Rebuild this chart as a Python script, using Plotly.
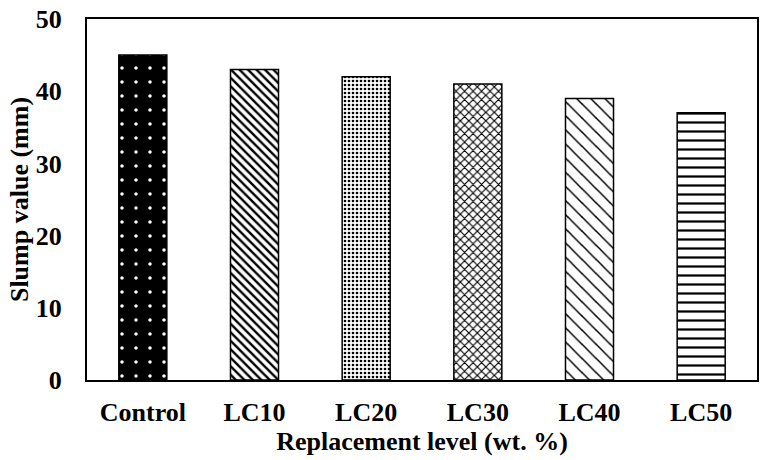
import plotly.graph_objects as go

categories = ["Control", "LC10", "LC20", "LC30", "LC40", "LC50"]
slump = [45, 43, 42, 41, 39, 37]
y_ticks = [0, 10, 20, 30, 40, 50]

shapes = [".", "\\", ".", "x", "\\", "-"]
bgcolors = ["black", "white", "white", "white", "white", "white"]
fgcolors = ["white", "black", "black", "black", "black", "black"]
sizes = [14, 6, 4, 6, 10, 9]
solidity = [0.05, 0.4, 0.35, 0.35, 0.15, 0.25]

fig = go.Figure()
for i, cat in enumerate(categories):
    fig.add_trace(go.Bar(
        x=[cat], y=[slump[i]], width=0.43,
        marker=dict(
            color=bgcolors[i],
            line=dict(color="black", width=1.5),
            pattern=dict(shape=shapes[i], bgcolor=bgcolors[i], fgcolor=fgcolors[i],
                         size=sizes[i], solidity=solidity[i], fillmode="replace"),
        ),
    ))

font = dict(family="Liberation Serif, Times New Roman, serif", color="black")
fig.update_layout(
    width=767, height=460,
    margin=dict(l=87, r=10, t=19, b=80),
    plot_bgcolor="white", paper_bgcolor="white",
    showlegend=False, barmode="overlay",
    font=dict(**font, size=26),
)
fig.update_xaxes(
    automargin=False,
    showline=True, linecolor="black", linewidth=2, mirror=True,
    ticks="", ticklabelstandoff=8, tickfont=dict(**font, size=26, weight="bold"),
    title=dict(text="<b>Replacement level (wt. %)</b>", font=dict(**font, size=26), standoff=0),
)
fig.update_yaxes(
    automargin=False, ticklabeloverflow="allow",
    range=[0, 50], tickvals=y_ticks, showgrid=False, zeroline=False,
    showline=True, linecolor="black", linewidth=2, mirror=True,
    ticks="", ticklabelstandoff=18, tickfont=dict(**font, size=26, weight="bold"),
    title=dict(text="<b>Slump value (mm)</b>", font=dict(**font, size=26), standoff=0),
)
fig.write_html(
    "out.html",
    config={"displayModeBar": False},
    post_script="document.body.style.margin='0';document.body.style.overflow='hidden';",
)
